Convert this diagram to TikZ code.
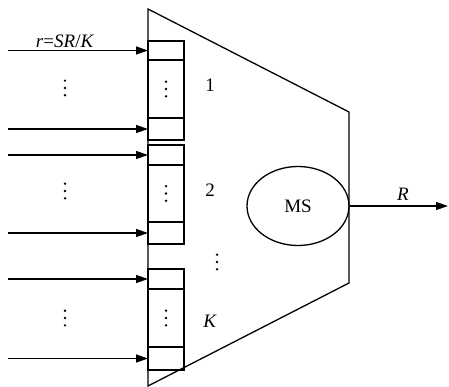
\documentclass[tikz,border=0pt]{standalone}
\usepackage{fontspec}
\setmainfont{Liberation Serif}
\usetikzlibrary{arrows.meta,shapes.geometric}
\begin{document}
\begin{tikzpicture}[x=1pt,y=-1pt, line width=1.3pt,
 cell/.style={draw, minimum width=36pt, inner sep=0pt, outer sep=0pt, anchor=north west},
 arr/.style={-{Triangle[length=12pt,width=8pt]}},
 lbl/.style={font=\fontsize{19}{21}\selectfont, inner sep=0pt},
 vd/.style={minimum width=4pt, minimum height=18pt, inner sep=0pt,
   path picture={\fill (path picture bounding box.center) circle (1.3pt)
     ++(0,7.3) circle (1.3pt) ++(0,-14.6) circle (1.3pt);}}]
\useasboundingbox (0,0) rectangle (449,387);
% trapezoid
\draw (148,9) -- (349,112) -- (349,283) -- (148,386) -- cycle;
% buffer 1
\node[cell, minimum height=19pt] (c1a) at (148,41) {};
\node[cell, minimum height=58pt] (c1b) at (148,60) {};
\node[cell, minimum height=22pt] (c1c) at (148,118) {};
% buffer 2
\node[cell, minimum height=20pt] (c2a) at (148,145) {};
\node[cell, minimum height=57pt] (c2b) at (148,165) {};
\node[cell, minimum height=22pt] (c2c) at (148,222) {};
% buffer K
\node[cell, minimum height=20pt] (cKa) at (148,269) {};
\node[cell, minimum height=58pt] (cKb) at (148,289) {};
\node[cell, minimum height=23pt] (cKc) at (148,347) {};
% dots inside
\node[vd] (d1) at (c1b.center) {};
\node[vd] (d2) at (c2b.center) {};
\node[vd] (dK) at (cKb.center) {};
% labels
\node[lbl] (n1) at (210,85) {1};
\node[lbl] (n2) at (210,190) {2};
\node[lbl] (nK) at (210,321) {\textit{K}};
\node[vd] (nd) at (217,262) {};
% input arrows
\coordinate (s1) at (8,50.5);
\coordinate (s2) at (8,129);
\coordinate (s3) at (8,155);
\coordinate (s4) at (8,233);
\coordinate (s5) at (8,279);
\coordinate (s6) at (8,358.5);
\draw[arr] (s1) -- (c1a.west);
\draw[arr] (s2) -- (c1c.west);
\draw[arr] (s3) -- (c2a.west);
\draw[arr] (s4) -- (c2c.west);
\draw[arr] (s5) -- (cKa.west);
\draw[arr] (s6) -- (cKc.west);
\node[lbl] (rl) at (65,41) {\textit{r}=\textit{SR}/\textit{K}};
\node[vd] (e1) at (65,88) {};
\node[vd] (e2) at (65,191) {};
\node[vd] (eK) at (65,318) {};
% MS
\node[draw, ellipse, minimum width=102pt, minimum height=79pt, inner sep=0pt, lbl] (ms) at (298,206) {MS};
\coordinate (out) at (448,206);
\draw[arr] (ms.east) -- (out);
\node[lbl] (R) at (403,194) {\textit{R}};
\end{tikzpicture}
\end{document}
